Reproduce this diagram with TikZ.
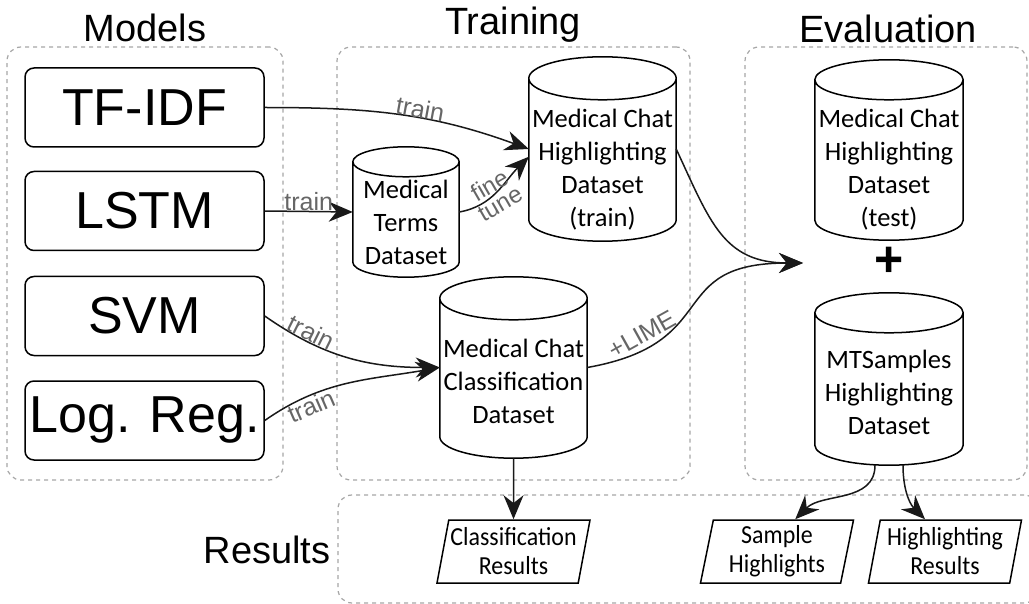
\documentclass[tikz,border=0pt]{standalone}
\usepackage{fontspec}
\setmainfont{Liberation Sans}
\newfontfamily\dsfont{Carlito}
\newfontfamily\resfont{Carlito}[FakeStretch=0.92]
\usetikzlibrary{
    arrows.meta,
    shapes.geometric,
    calc,
    positioning
}
% text of a dataset, set lower than the node centre (below the top cap)
\newcommand{\lowered}[2]{\raisebox{-#1}[0pt][0pt]{\begin{tabular}{@{}c@{}}#2\end{tabular}}}
% cylinder outline round a dataset node: #1 node, #2 radius of the caps
\newcommand{\drum}[2]{%
    \draw[line width=1.5pt] let \p1=(#1.north west), \p2=(#1.south east), \n1={(\x2-\x1)/2} in
        (\x1,\y1-#2) -- (\x1,\y2+#2)
        arc[start angle=180, end angle=360, x radius=\n1, y radius=#2]
        -- (\x2,\y1-#2)
        arc[start angle=0, end angle=360, x radius=\n1, y radius=#2];
}
\tikzset{
    group/.style={draw=black!35, dash pattern=on 4pt off 4pt, line width=1.2pt, rounded corners=14pt},
    title/.style={anchor=base, font=\fontsize{38}{40}\selectfont},
    model/.style={draw, line width=1.5pt, rounded corners=9pt, minimum width=239pt, minimum height=79pt, inner sep=0pt, font=\fontsize{52}{56}\selectfont},
    dataset/.style={inner sep=0pt, font=\dsfont\fontsize{26.5}{33}\selectfont},
    result/.style={draw, line width=1.5pt, trapezium, trapezium left angle=76, trapezium right angle=104, trapezium stretches body, minimum width=153pt, minimum height=63pt, inner sep=0pt, align=center, font=\resfont\fontsize{26}{29}\selectfont},
    flow/.style={-{Stealth[length=24pt, width=20pt]}, line width=1.5pt, draw=black!90},
    tag/.style={text=black!60, font=\fontsize{25}{22}\selectfont}
}
\begin{document}
\begin{tikzpicture}[x=1pt, y=-1pt]
    \useasboundingbox (0,0) rectangle (1029,604);

    % groups
    \node[group, minimum width=276pt, minimum height=433pt] (models) at (145,263.5) {};
    \node[group, minimum width=353pt, minimum height=433pt] (training) at (513.5,263.5) {};
    \node[group, minimum width=282pt, minimum height=433pt] (evaluation) at (886,263.5) {};
    \node[group, minimum width=700pt, minimum height=108pt] (results) at (688,549) {};
    \node[title] (tmodels) at (145,42) {Models};
    \node[title] (ttraining) at (513,35) {Training};
    \node[title] (tevaluation) at (888,43) {Evaluation};
    \node[font=\fontsize{38}{40}\selectfont] (tresults) at (267,550) {Results};

    % models
    \node[model] (tfidf) at (144.5,107.5) {TF-IDF};
    \node[model] (lstm) at (144.5,211) {LSTM};
    \node[model] (svm) at (144.5,316) {SVM};
    \node[model] (logreg) at (144.5,420.5) {Log. Reg.};

    % datasets
    \node[dataset, minimum width=147pt, minimum height=184pt] (hlt) at (602.5,149) {\lowered{28pt}{Medical Chat\\Highlighting\\Dataset\\(train)}};
    \node[dataset, minimum width=106pt, minimum height=130pt] (terms) at (406,212) {\lowered{19pt}{Medical\\Terms\\Dataset}};
    \node[dataset, minimum width=147pt, minimum height=181pt] (cls) at (513.5,367.5) {\lowered{23pt}{Medical Chat\\Classification\\Dataset}};
    \node[dataset, minimum width=148pt, minimum height=180pt] (tst) at (889,150) {\lowered{27pt}{Medical Chat\\Highlighting\\Dataset\\(test)}};
    \node[dataset, minimum width=148pt, minimum height=172pt] (mts) at (889,379) {\lowered{22pt}{MTSamples\\Highlighting\\Dataset}};
    \drum{hlt}{21.5pt}
    \drum{terms}{15pt}
    \drum{cls}{21.5pt}
    \drum{tst}{20pt}
    \drum{mts}{20pt}
    \node[font=\bfseries\fontsize{50}{50}\selectfont] (plus) at (889,262) {+};
    \coordinate (merge) at (803,263);

    % results
    \node[result] (res1) at (513.5,551.5) {Classification\\Results};
    \node[result] (smp) at (777,551.5) {Sample\\Highlights};
    \node[result] (hlr) at (945,551.5) {Highlighting\\Results};

    \draw
    (tfidf.east) edge [flow, out=0, in=160] node[tag, pos=0.58, sloped, above=-4pt] {train} (hlt.west)
    (lstm.east) edge [flow] node[tag, above=-3pt] {train} (terms.west)
    (terms.east) edge [flow, out=10, in=225] node[tag, pos=0.45, rotate=30, align=center, font=\fontsize{24}{21}\selectfont] {fine\\tune} (hlt.186)
    (svm.east) edge [flow, out=-35, in=180] node[tag, pos=0.25, sloped, above=-3pt] {train} (cls.west)
    (logreg.east) edge [flow, out=35, in=190] node[tag, pos=0.25, sloped, below=-3pt] {train} (cls.west)
    (hlt.east) edge [flow, out=-65, in=180, looseness=1.2] (merge)
    (cls.east) edge [flow, out=10, in=180, looseness=1.5] node[tag, pos=0.2, sloped, above=2pt] {+LIME} (merge)
    (cls.south) edge [flow] (res1.north)
    ([xshift=-14pt]mts.south) edge [flow, out=-90, in=45] ([xshift=-14pt]smp.north east)
    ([xshift=14pt]mts.south) edge [flow, out=-90, in=135] ([xshift=-20pt]hlr.north);
\end{tikzpicture}
\end{document}
